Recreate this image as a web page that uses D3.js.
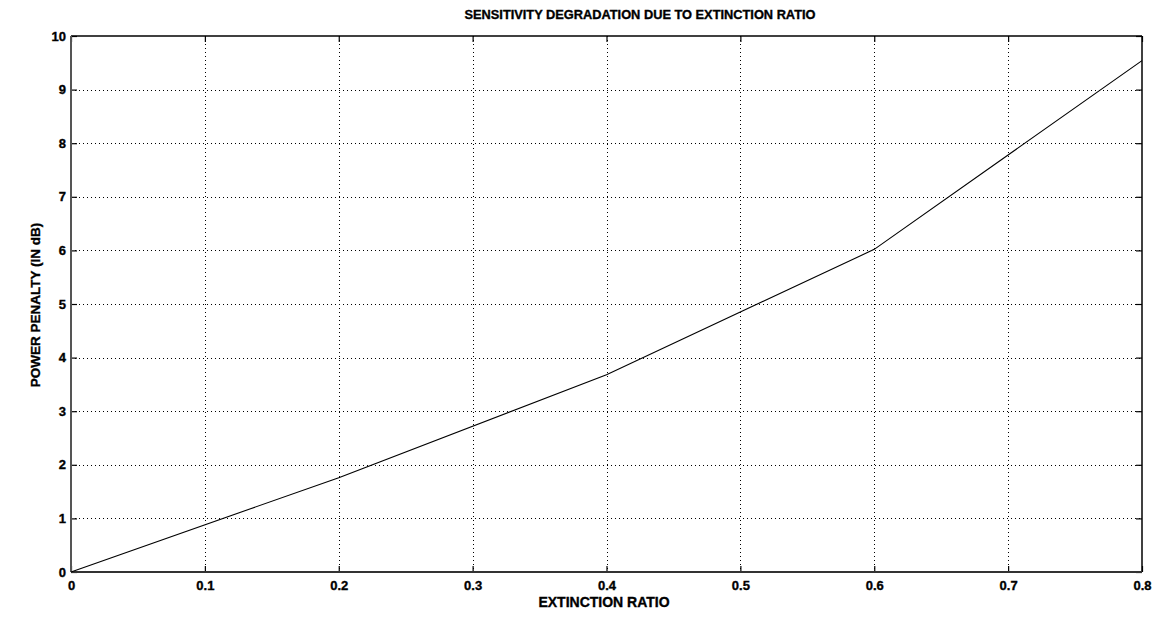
<!DOCTYPE html>
<html>
<head>
<meta charset="utf-8">
<script src="https://cdn.jsdelivr.net/npm/d3@7"></script>
<style>
  html, body { margin: 0; padding: 0; background: #fff; }
  svg { display: block; }
  text { font-family: "Liberation Sans", Arial, sans-serif; font-weight: bold; fill: #000; stroke: #000; stroke-width: 0.35px; }
</style>
</head>
<body>
<svg id="chart" width="1155" height="637"></svg>
<script>
const extinctionRatio = [0, 0.2, 0.4, 0.6, 0.8];
const powerPenalty = [0, 1.76, 3.68, 6.02, 9.54];
const xTicks = [0, 0.1, 0.2, 0.3, 0.4, 0.5, 0.6, 0.7, 0.8];
const yTicks = [0, 1, 2, 3, 4, 5, 6, 7, 8, 9, 10];
const titleText = "SENSITIVITY DEGRADATION DUE TO EXTINCTION RATIO";
const xLabelText = "EXTINCTION RATIO";
const yLabelText = "POWER PENALTY (IN dB)";

const svg = d3.select("#chart");
const L = 71, R = 1142, T = 36, B = 572;

const x = d3.scaleLinear().domain([0, 0.8]).range([L, R]);
const y = d3.scaleLinear().domain([0, 10]).range([B, T]);

// grid
const grid = svg.append("g").attr("stroke", "#000").attr("stroke-width", 1).attr("stroke-dasharray", "1,3");
grid.selectAll("line.gx").data(xTicks.slice(1, -1)).join("line")
  .attr("x1", d => Math.round(x(d)) + 0.5).attr("x2", d => Math.round(x(d)) + 0.5)
  .attr("y1", T).attr("y2", B);
grid.selectAll("line.gy").data(yTicks.slice(1, -1)).join("line")
  .attr("y1", d => Math.round(y(d)) + 0.5).attr("y2", d => Math.round(y(d)) + 0.5)
  .attr("x1", L).attr("x2", R);

// axes
const fmtX = d => d === 0 ? "0" : d3.format(".1f")(d);
const xAxis = d3.axisBottom(x).tickValues(xTicks).tickFormat(fmtX).tickSizeInner(-6).tickSizeOuter(0).tickPadding(9);
const yAxis = d3.axisLeft(y).tickValues(yTicks).tickFormat(d3.format("d")).tickSizeInner(-6).tickSizeOuter(0).tickPadding(5);
const xTop = d3.axisTop(x).tickValues(xTicks).tickFormat("").tickSizeInner(-6).tickSizeOuter(0);
const yRight = d3.axisRight(y).tickValues(yTicks).tickFormat("").tickSizeInner(-6).tickSizeOuter(0);

function styleAxis(g) {
  g.select(".domain").remove();
  g.selectAll(".tick line").attr("stroke", "#000").attr("stroke-width", 1.2);
  g.selectAll(".tick text").attr("font-size", 13).attr("font-family", "Liberation Sans, Arial, sans-serif").attr("font-weight", "bold").attr("fill", "#000");
}
svg.append("g").attr("transform", `translate(0,${B})`).call(xAxis).call(styleAxis);
svg.append("g").attr("transform", `translate(${L},0)`).call(yAxis).call(styleAxis);
svg.append("g").attr("transform", `translate(0,${T})`).call(xTop).call(styleAxis);
svg.append("g").attr("transform", `translate(${R},0)`).call(yRight).call(styleAxis);

// box
svg.append("line").attr("x1", L).attr("x2", R).attr("y1", T).attr("y2", T).attr("stroke", "#000").attr("stroke-width", 1.5);
svg.append("line").attr("x1", R).attr("x2", R).attr("y1", T).attr("y2", B).attr("stroke", "#000").attr("stroke-width", 1.5);
svg.append("line").attr("x1", L).attr("x2", R).attr("y1", B).attr("y2", B).attr("stroke", "#333").attr("stroke-width", 1.8);
svg.append("line").attr("x1", L).attr("x2", L).attr("y1", T).attr("y2", B).attr("stroke", "#555").attr("stroke-width", 2);

// line
const line = d3.line().x((d, i) => x(extinctionRatio[i])).y(d => y(d));
svg.append("path").datum(powerPenalty).attr("d", line)
  .attr("fill", "none").attr("stroke", "#000").attr("stroke-width", 1.1);

// labels
svg.append("text").attr("x", 640).attr("y", 19).attr("text-anchor", "middle")
  .attr("font-size", 12.8).text(titleText);
svg.append("text").attr("x", 604).attr("y", 607).attr("text-anchor", "middle")
  .attr("font-size", 14).text(xLabelText);
svg.append("text").attr("transform", `translate(40,305) rotate(-90)`).attr("text-anchor", "middle")
  .attr("font-size", 13.5).text(yLabelText);
</script>
</body>
</html>
